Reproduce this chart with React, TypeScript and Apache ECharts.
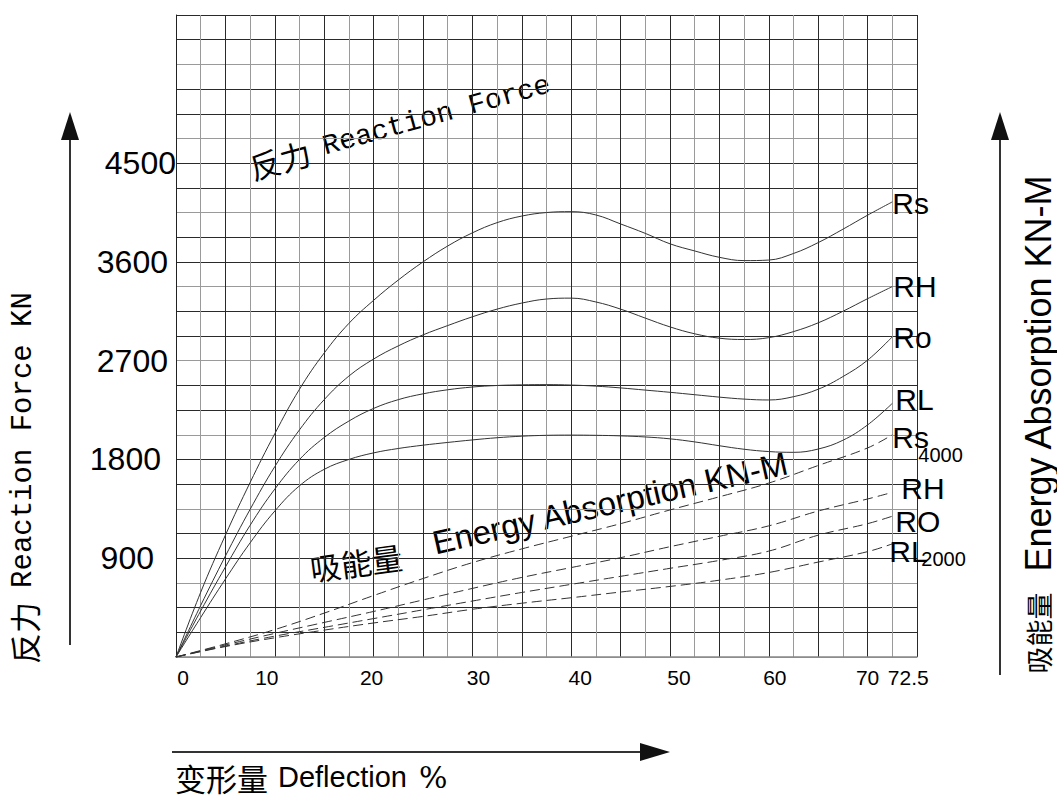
import React, { useEffect, useRef } from 'react';
import * as echarts from 'echarts';

// Deflection (%) sample points for reaction-force curves
const deflection = [0, 2.5, 5, 7.5, 10, 12.5, 15, 17.5, 20, 22.5, 25, 27.5, 30, 32.5, 35, 37.5, 40, 42.5, 45, 47.5, 50, 52.5, 55, 57.5, 60, 62.5, 65, 67.5, 70, 72.5];
// Reaction force KN
const forceRs = [0, 590, 1110, 1590, 2035, 2440, 2770, 3040, 3250, 3435, 3600, 3745, 3865, 3958, 4018, 4050, 4058, 4028, 3946, 3860, 3765, 3700, 3642, 3612, 3617, 3677, 3776, 3898, 4026, 4147];
const forceRH = [0, 470, 920, 1345, 1735, 2070, 2345, 2560, 2715, 2835, 2935, 3020, 3100, 3170, 3225, 3262, 3270, 3235, 3170, 3088, 3008, 2945, 2905, 2893, 2910, 2965, 3045, 3150, 3265, 3375];
const forceRo = [0, 420, 820, 1200, 1530, 1800, 2000, 2150, 2265, 2345, 2398, 2435, 2460, 2474, 2480, 2482, 2478, 2468, 2452, 2432, 2412, 2390, 2368, 2350, 2342, 2372, 2440, 2555, 2705, 2918];
const forceRL = [0, 360, 710, 1040, 1330, 1560, 1710, 1800, 1860, 1900, 1930, 1955, 1978, 1998, 2012, 2020, 2022, 2020, 2015, 2005, 1988, 1960, 1925, 1893, 1872, 1865, 1895, 1975, 2115, 2311];

// Energy absorption curves (dashed), read in plot units
const energyDeflection = [0, 5, 10, 15, 20, 25, 30, 35, 40, 45, 50, 55, 60, 65, 70, 72.5];
const energyRs4000 = [0, 120, 250, 400, 560, 715, 860, 985, 1100, 1215, 1340, 1460, 1585, 1745, 1905, 2025];
const energyRH = [0, 110, 215, 315, 415, 520, 625, 725, 815, 905, 1005, 1100, 1195, 1330, 1440, 1500];
const energyRO = [0, 100, 190, 270, 350, 430, 510, 588, 662, 735, 808, 880, 965, 1110, 1215, 1283];
const energyRL2000 = [0, 95, 175, 245, 310, 370, 435, 490, 540, 592, 643, 700, 770, 865, 960, 1031];

const xTickLabels = ['0', '10', '20', '30', '40', '50', '60', '70', '72.5'];
const yTickLabels = ['900', '1800', '2700', '3600', '4500'];

const SANS = "'Liberation Sans', Arial, 'Noto Sans CJK SC', sans-serif";
const MONO = "'Liberation Mono', 'Noto Sans CJK SC', monospace";
const CJK = "'Noto Sans CJK SC', sans-serif";

const xShift: Record<string, number> = { '0': 7, '10': -8, '20': -2, '30': 6, '40': 9, '50': 9, '60': 6, '70': 0, '72.5': 16 };
const yPad: Record<string, number> = { '900': 22, '1800': 15, '2700': 8, '3600': 8, '4500': 0 };

const keyOf = (s: string) => 'k' + s.replace('.', '');

function pairs(xs: number[], ys: number[]) {
  return xs.map((x, i) => [x, ys[i]]);
}

const labelRich = {
  m: { fontSize: 30, fontFamily: SANS, color: '#000' },
  m2: { fontSize: 30, fontFamily: SANS, color: '#000', width: 26 },
  m3: { fontSize: 30, fontFamily: SANS, color: '#000', width: 32 },
  s: { fontSize: 20, fontFamily: SANS, color: '#000', padding: [35, 0, 0, 0] },
  s2: { fontSize: 20, fontFamily: SANS, color: '#000', padding: [14, 0, 0, 0] },
};

function curve(name: string, xs: number[], ys: number[], dashed: boolean, text: string, offset: number[]) {
  return {
    type: 'line',
    name,
    data: pairs(xs, ys),
    showSymbol: false,
    symbol: 'none',
    smooth: 0.4,
    silent: true,
    lineStyle: { color: '#333', width: 1, type: dashed ? [10, 5] : 'solid' },
    endLabel: {
      show: true,
      formatter: () => text,
      distance: 0,
      offset,
      align: 'left',
      verticalAlign: 'middle',
      fontSize: 30,
      fontFamily: SANS,
      color: '#000',
      rich: labelRich,
    },
    z: 3,
  };
}

export default function App() {
  const ref = useRef<HTMLDivElement>(null);
  useEffect(() => {
    if (!ref.current) return;
    const chart = echarts.init(ref.current, null, { renderer: 'svg' });

    const xRich: Record<string, any> = {};
    xTickLabels.forEach((s) => {
      const d = xShift[s] || 0;
      xRich[keyOf(s)] = {
        fontSize: 21,
        fontFamily: SANS,
        color: '#000',
        padding: d >= 0 ? [0, 0, 0, 2 * d] : [0, -2 * d, 0, 0],
      };
    });
    const yRich: Record<string, any> = {};
    yTickLabels.forEach((s) => {
      yRich[keyOf(s)] = { fontSize: 32, fontFamily: SANS, color: '#000', padding: [0, yPad[s] || 0, 0, 0] };
    });

    const DARK = '#2a2a2a';
    const GRAY = '#9a9a9a';

    const option: any = {
      animation: false,
      backgroundColor: '#fff',
      grid: { left: 176, top: 15, right: 140, bottom: 144, containLabel: false },
      xAxis: {
        type: 'value',
        min: 0,
        max: 75,
        interval: 2.5,
        axisLine: { show: true, lineStyle: { color: '#888', width: 1.5 } },
        axisTick: { show: false },
        splitLine: { show: true, lineStyle: { color: [DARK, GRAY], width: 1 } },
        axisLabel: {
          margin: 10,
          fontSize: 21,
          fontFamily: SANS,
          color: '#000',
          rich: xRich,
          formatter: (v: number) => {
            const s = String(Math.round(v * 10) / 10);
            if (xTickLabels.indexOf(s) < 0) return '';
            return '{' + keyOf(s) + '|' + s + '}';
          },
        },
      },
      yAxis: {
        type: 'value',
        min: 0,
        max: 5850,
        interval: 225,
        axisLine: { show: true, lineStyle: { color: '#222', width: 1 } },
        axisTick: { show: false },
        splitLine: { show: true, lineStyle: { color: [GRAY, DARK, DARK], width: 1 } },
        axisLabel: {
          margin: 0,
          fontSize: 32,
          fontFamily: SANS,
          color: '#000',
          rich: yRich,
          formatter: (v: number) => {
            const s = String(Math.round(v));
            if (yTickLabels.indexOf(s) < 0) return '';
            return '{' + keyOf(s) + '|' + s + '}';
          },
        },
      },
      series: [
        curve('Rs', deflection, forceRs, false, '{m|Rs}', [0, 2]),
        curve('RH', deflection, forceRH, false, '{m|RH}', [1, 0]),
        curve('Ro', deflection, forceRo, false, '{m|Ro}', [1, 1]),
        curve('RL', deflection, forceRL, false, '{m|RL}', [3, -4]),
        curve('Rs4000', energyDeflection, energyRs4000, true, '{m2|Rs}{s|4000}', [0, 3]),
        curve('RH energy', energyDeflection, energyRH, true, '{m|RH}', [9, -4]),
        curve('RO energy', energyDeflection, energyRO, true, '{m|RO}', [3, 5]),
        curve('RL2000', energyDeflection, energyRL2000, true, '{m3|RL}{s2|2000}', [-3, 8]),
      ],
      graphic: [
        // left arrow
        { type: 'line', shape: { x1: 70, y1: 135, x2: 70, y2: 645 }, style: { stroke: '#333', lineWidth: 2 } },
        { type: 'polygon', shape: { points: [[70, 112], [61, 140], [79, 140]] }, style: { fill: '#111' } },
        // right arrow
        { type: 'line', shape: { x1: 1000, y1: 135, x2: 1000, y2: 675 }, style: { stroke: '#333', lineWidth: 2 } },
        { type: 'polygon', shape: { points: [[1000, 112], [991, 140], [1009, 140]] }, style: { fill: '#111' } },
        // bottom arrow
        { type: 'line', shape: { x1: 172, y1: 752, x2: 645, y2: 752 }, style: { stroke: '#333', lineWidth: 2 } },
        { type: 'polygon', shape: { points: [[670, 752], [640, 743], [640, 761]] }, style: { fill: '#111' } },
        // left axis title
        {
          type: 'text', x: 23, y: 478, rotation: Math.PI / 2,
          style: {
            text: '{c|反力}{l|Reaction Force KN}',
            rich: {
              c: { fontSize: 31, fontFamily: CJK, fill: '#000', color: '#000', padding: [0, 14, 0, 0] },
              l: { fontSize: 29, fontFamily: MONO, fill: '#000', color: '#000' },
            },
            fill: '#000', align: 'center', verticalAlign: 'middle', textAlign: 'center', textVerticalAlign: 'middle',
          },
        },
        // right axis title
        {
          type: 'text', x: 1038, y: 424, rotation: Math.PI / 2,
          style: {
            text: '{c|吸能量}{e|Energy Absorption KN-M}',
            rich: {
              c: { fontSize: 27, fontFamily: CJK, fill: '#000', color: '#000', padding: [0, 20, 0, 0] },
              e: { fontSize: 36, fontFamily: SANS, fill: '#000', color: '#000' },
            },
            fill: '#000', align: 'center', verticalAlign: 'middle', textAlign: 'center', textVerticalAlign: 'middle',
          },
        },
        // top tilted title
        {
          type: 'text', x: 400, y: 126, rotation: 0.27,
          style: {
            text: '{c|反力}{l|Reaction Force}',
            rich: {
              c: { fontSize: 31, fontFamily: CJK, fill: '#000', color: '#000', padding: [0, 14, 0, 0] },
              l: { fontSize: 28, fontFamily: MONO, fill: '#000', color: '#000' },
            },
            fill: '#000', align: 'center', verticalAlign: 'middle', textAlign: 'center', textVerticalAlign: 'middle',
          },
        },
        // energy text inside plot
        {
          type: 'text', x: 356, y: 562, rotation: 0.13,
          style: { text: '吸能量', fontSize: 31, fontFamily: CJK, fill: '#000', align: 'center', verticalAlign: 'middle', textAlign: 'center', textVerticalAlign: 'middle' },
        },
        {
          type: 'text', x: 610, y: 503, rotation: 0.224,
          style: { text: 'Energy Absorption KN-M', fontSize: 33, fontFamily: SANS, fill: '#000', align: 'center', verticalAlign: 'middle', textAlign: 'center', textVerticalAlign: 'middle' },
        },
        // bottom title
        {
          type: 'text', x: 175, y: 777,
          style: {
            text: '{c|变形量}{e|Deflection}{p|%}',
            rich: {
              c: { fontSize: 31, lineHeight: 34, fontFamily: CJK, fill: '#000', color: '#000', padding: [0, 10, 0, 0] },
              e: { fontSize: 29, lineHeight: 34, fontFamily: SANS, fill: '#000', color: '#000', padding: [0, 12, 0, 0] },
              p: { fontSize: 30, lineHeight: 34, fontFamily: "'DejaVu Serif', serif", fill: '#000', color: '#000' },
            },
            fill: '#000', align: 'left', verticalAlign: 'middle', textAlign: 'left', textVerticalAlign: 'middle',
          },
        },
      ],
    };
    chart.setOption(option);
    return () => chart.dispose();
  }, []);

  return (
    <div
      ref={ref}
      style={{ position: 'fixed', left: 0, top: 0, width: 1057, height: 801, background: '#fff' }}
    />
  );
}
